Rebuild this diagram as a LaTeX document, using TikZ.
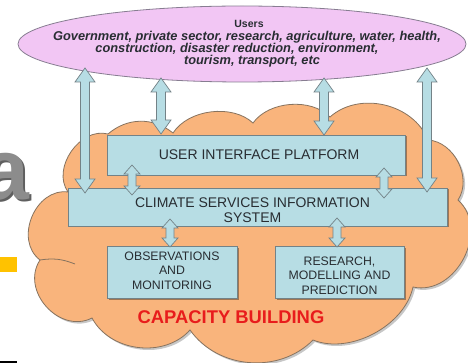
\documentclass[tikz,border=0pt]{standalone}
\usepackage{fontspec}
\setmainfont{Liberation Sans}
\usetikzlibrary{calc,shapes.geometric,shadows}

\definecolor{cloudfill}{RGB}{249,180,124}
\definecolor{cloudline}{RGB}{135,115,95}
\definecolor{boxfill}{RGB}{183,221,228}
\definecolor{boxline}{RGB}{115,130,135}
\definecolor{ellfill}{RGB}{242,198,244}
\definecolor{ellline}{RGB}{135,125,145}
\definecolor{txt}{RGB}{40,45,50}
\definecolor{capred}{RGB}{232,28,28}
\definecolor{slidegray}{RGB}{140,140,140}
\definecolor{slidegraydark}{RGB}{95,95,95}
\definecolor{slideyellow}{RGB}{255,194,0}

\newcommand\blockarr[5]{%
  \path[blockarrow] let \p1=(#1), \p2=(#2) in
    (\x1,\y1) -- (\x1+#4,\y1-#5) -- (\x1+#3,\y1-#5) -- (\x1+#3,\y2+#5)
    -- (\x1+#4,\y2+#5) -- (\x1,\y2) -- (\x1-#4,\y2+#5) -- (\x1-#3,\y2+#5)
    -- (\x1-#3,\y1-#5) -- (\x1-#4,\y1-#5) -- cycle;}

\def\cloudoutline{(108,134) to[bend left=40] (173,133)
  to[bend left=50, looseness=0.9] (253,123)
  to[bend left=50, looseness=0.9] (330,117)
  to[bend left=55] (428,140)
  to[bend left=60] (458,200)
  to[bend left=75, looseness=1.15] (413,287)
  to[bend left=50, looseness=0.9] (313,340)
  to[bend left=50] (190,330)
  to[bend left=55] (92,318)
  to[bend left=75, looseness=1.2] (40,260)
  to[bend left=75, looseness=1.15] (68,192)
  to[bend left=70, looseness=1.05] (108,134) -- cycle}

\begin{document}
\begin{tikzpicture}[x=1pt,y=-1pt,
  box/.style={draw=boxline, fill=boxfill, line width=0.8pt, inner sep=0pt,
    drop shadow={shadow xshift=1.5pt, shadow yshift=-1.5pt, opacity=0.35, fill=black}},
  blockarrow/.style={draw=boxline, fill=boxfill, line width=0.7pt},
  bigtext/.style={font=\fontsize{14}{15}\selectfont, text=txt, align=center, inner sep=0pt},
  boxtext/.style={font=\fontsize{12.3}{14.2}\selectfont, text=txt, align=center, inner sep=0pt},
  usertext/.style={font=\fontsize{12.8}{12.3}\selectfont\bfseries\itshape, text=txt, inner sep=0pt},
  cloudinner/.style={draw=cloudline, line width=0.8pt}]

\useasboundingbox (0,0) rectangle (468,363);
\fill[white] (0,0) rectangle (468,363);

% slide remnants at the left edge
\node[anchor=base east, inner sep=0pt, font=\fontsize{86}{86}\selectfont\bfseries, text=slidegraydark] (bigashadow) at (31.5,201.5) {a};
\node[anchor=base east, inner sep=0pt, font=\fontsize{86}{86}\selectfont\bfseries, text=slidegray] (biga) at (30,200) {a};
\fill[slideyellow] (0,257) rectangle (17,272);
\fill[black] (0,361) rectangle (17,363);

% cloud
\fill[black, opacity=0.22, xshift=2pt, yshift=-2pt] \cloudoutline;
\filldraw[fill=cloudfill, draw=cloudline, line width=0.8pt] \cloudoutline;
\draw[cloudinner] (40,260) to[bend left=15] (75,264);

% users ellipse
\node[ellipse, draw=ellline, fill=ellfill, line width=0.8pt,
      minimum width=448pt, minimum height=76pt] (users) at (242,44) {};
\node[font=\fontsize{10.5}{12}\selectfont\bfseries, text=txt, inner sep=0pt] (ut0) at (249,24) {Users};
\node[usertext] (ut1) at (247,37) {Government, private sector, research, agriculture, water, health,};
\node[usertext] (ut2) at (237,49) {construction, disaster reduction, environment,};
\node[usertext] (ut3) at (252,61) {tourism, transport, etc};

% boxes
\node[box, minimum width=298pt, minimum height=40pt] (uip) at (256,155) {};
\node[bigtext] (uiptext) at ($(uip.center)+(3,0)$) {USER INTERFACE PLATFORM};
\node[box, minimum width=379pt, minimum height=38pt] (csis) at (257.5,207) {};
\node[bigtext] (csistext) at ($(csis.center)+(-5,3.5)$) {CLIMATE SERVICES INFORMATION\\SYSTEM};
\node[box, minimum width=130pt, minimum height=52pt] (obs) at (172,272) {};
\node[boxtext] (obstext) at ($(obs.center)+(0,-1.3)$) {OBSERVATIONS\\AND\\MONITORING};
\node[box, minimum width=129pt, minimum height=52pt] (res) at (339.5,272) {};
\node[boxtext] (restext) at ($(res.center)+(0,3.6)$) {RESEARCH,\\MODELLING AND\\PREDICTION};

\node[font=\fontsize{18.4}{20}\selectfont\bfseries, text=capred] (cap) at (231,317) {CAPACITY BUILDING};

% arrow end points
\coordinate (a1t) at (85,68);   \coordinate (a1b) at (85,193);
\coordinate (a2t) at (161,78);  \coordinate (a2b) at (161,134);
\coordinate (a3t) at (324,78);  \coordinate (a3b) at (324,135);
\coordinate (a4t) at (427,68);  \coordinate (a4b) at (427,192);
\coordinate (s1t) at (132,165); \coordinate (s1b) at (132,195);
\coordinate (s2t) at (384,168); \coordinate (s2b) at (384,198);
\coordinate (s3t) at (170,219); \coordinate (s3b) at (170,247);
\coordinate (s4t) at (337,218); \coordinate (s4b) at (337,247);

\blockarr{a1t}{a1b}{4.5pt}{10pt}{14pt}
\blockarr{a2t}{a2b}{4.5pt}{10pt}{14pt}
\blockarr{a3t}{a3b}{4.5pt}{10pt}{14pt}
\blockarr{a4t}{a4b}{4.5pt}{10pt}{14pt}
\blockarr{s1t}{s1b}{4pt}{8pt}{9pt}
\blockarr{s2t}{s2b}{4pt}{8pt}{9pt}
\blockarr{s3t}{s3b}{4pt}{8pt}{9pt}
\blockarr{s4t}{s4b}{4pt}{8pt}{9pt}
\end{tikzpicture}
\end{document}
